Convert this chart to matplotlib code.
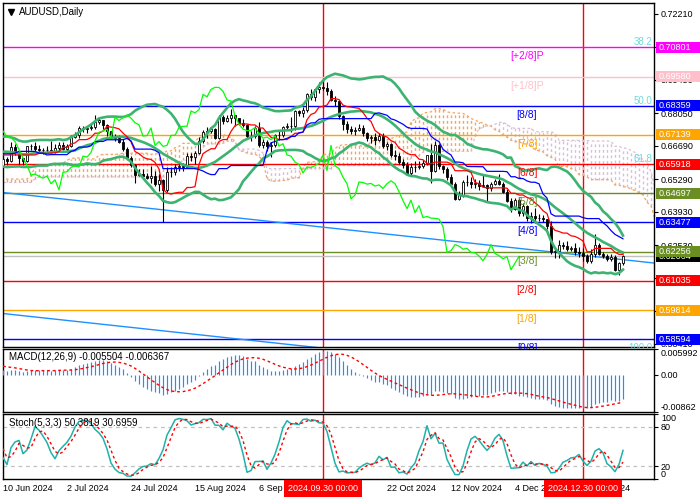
import matplotlib
matplotlib.use("Agg")
import matplotlib.pyplot as plt
import matplotlib.transforms as mtransforms
from matplotlib.patches import Rectangle
import numpy as np
import pandas as pd

plt.rcParams['font.family'] = ['Liberation Sans', 'DejaVu Sans']

# --- bars before the visible window (only used to warm up the indicators) ---
# 21 Feb 2024 .. 7 Jun 2024
pre_high = [0.6570, 0.6595, 0.6580, 0.6570, 0.6575, 0.6555, 0.6530,
            0.6530, 0.6540, 0.6535, 0.6550, 0.6610, 0.6668, 0.6620, 0.6610, 0.6610, 0.6620, 0.6590,
            0.6580, 0.6570, 0.6590, 0.6635, 0.6585, 0.6545, 0.6560, 0.6545, 0.6535, 0.6530,
            0.6530, 0.6520, 0.6555, 0.6590, 0.6590, 0.6615, 0.6645, 0.6645, 0.6555, 0.6550,
            0.6505, 0.6450, 0.6445, 0.6440, 0.6445, 0.6460, 0.6500, 0.6530, 0.6530, 0.6545,
            0.6580, 0.6560, 0.6545, 0.6570, 0.6645, 0.6640, 0.6630, 0.6595, 0.6625, 0.6630,
            0.6620, 0.6630, 0.6700, 0.6715, 0.6700, 0.6700, 0.6680, 0.6670, 0.6640, 0.6630,
            0.6660, 0.6670, 0.6655, 0.6640, 0.6665, 0.6680, 0.6685, 0.6665, 0.6680, 0.6680]
pre_low = [0.6530, 0.6550, 0.6550, 0.6540, 0.6535, 0.6505, 0.6485,
           0.6478, 0.6505, 0.6477, 0.6495, 0.6540, 0.6595, 0.6580, 0.6570, 0.6570, 0.6560, 0.6550,
           0.6540, 0.6505, 0.6505, 0.6560, 0.6505, 0.6515, 0.6525, 0.6510, 0.6480, 0.6505,
           0.6480, 0.6480, 0.6500, 0.6535, 0.6540, 0.6565, 0.6600, 0.6520, 0.6510, 0.6460,
           0.6440, 0.6380, 0.6395, 0.6395, 0.6362, 0.6415, 0.6440, 0.6470, 0.6485, 0.6505,
           0.6525, 0.6465, 0.6465, 0.6525, 0.6555, 0.6595, 0.6575, 0.6555, 0.6560, 0.6595,
           0.6595, 0.6590, 0.6615, 0.6665, 0.6660, 0.6660, 0.6640, 0.6620, 0.6590, 0.6590,
           0.6615, 0.6630, 0.6590, 0.6590, 0.6610, 0.6645, 0.6630, 0.6630, 0.6645, 0.6575]
pre_close = [0.6560, 0.6575, 0.6560, 0.6560, 0.6550, 0.6510, 0.6500,
             0.6525, 0.6520, 0.6500, 0.6545, 0.6605, 0.6620, 0.6595, 0.6585, 0.6600, 0.6570, 0.6565,
             0.6545, 0.6525, 0.6575, 0.6580, 0.6520, 0.6535, 0.6540, 0.6535, 0.6520, 0.6515,
             0.6500, 0.6505, 0.6545, 0.6580, 0.6570, 0.6610, 0.6635, 0.6530, 0.6550, 0.6475,
             0.6445, 0.6405, 0.6435, 0.6415, 0.6420, 0.6450, 0.6490, 0.6500, 0.6525, 0.6535,
             0.6560, 0.6480, 0.6535, 0.6560, 0.6610, 0.6620, 0.6580, 0.6575, 0.6620, 0.6610,
             0.6605, 0.6620, 0.6690, 0.6680, 0.6695, 0.6670, 0.6665, 0.6625, 0.6605, 0.6620,
             0.6650, 0.6650, 0.6600, 0.6625, 0.6655, 0.6680, 0.6645, 0.6650, 0.6665, 0.6580]

# --- visible daily bars: 10 Jun 2024 .. Jan 2025 ---
opens = [0.6582, 0.6612, 0.6605, 0.6665, 0.6640, 0.6616, 0.6606, 0.6666, 0.6667, 0.6657,
         0.6650, 0.6650, 0.6651, 0.6645, 0.6659, 0.6672, 0.6656, 0.6669, 0.6705, 0.6712,
         0.6744, 0.6740, 0.6741, 0.6745, 0.6766, 0.6778, 0.6756, 0.6730, 0.6706, 0.6703,
         0.6686, 0.6653, 0.6616, 0.6587, 0.6546, 0.6550, 0.6541, 0.6533, 0.6542, 0.6510,
         0.6526, 0.6484, 0.6557, 0.6560, 0.6578, 0.6585, 0.6580, 0.6625, 0.6621, 0.6640,
         0.6689, 0.6725, 0.6730, 0.6738, 0.6700, 0.6788, 0.6774, 0.6786, 0.6797, 0.6784,
         0.6765, 0.6756, 0.6709, 0.6711, 0.6743, 0.6670, 0.6686, 0.6666, 0.6670, 0.6712,
         0.6712, 0.6745, 0.6750, 0.6750, 0.6814, 0.6806, 0.6820, 0.6883, 0.6873, 0.6904,
         0.6913, 0.6912, 0.6896, 0.6860, 0.6856, 0.6792, 0.6759, 0.6738, 0.6732, 0.6733,
         0.6744, 0.6720, 0.6700, 0.6705, 0.6694, 0.6710, 0.6667, 0.6677, 0.6630, 0.6625,
         0.6600, 0.6590, 0.6555, 0.6580, 0.6578, 0.6585, 0.6595, 0.6630, 0.6565, 0.6670,
         0.6585, 0.6573, 0.6537, 0.6510, 0.6447, 0.6462, 0.6517, 0.6515, 0.6508, 0.6511,
         0.6500, 0.6505, 0.6490, 0.6510, 0.6522, 0.6510, 0.6477, 0.6439, 0.6406, 0.6441,
         0.6389, 0.6418, 0.6368, 0.6373, 0.6366, 0.6365, 0.6362, 0.6331, 0.6223, 0.6230,
         0.6255, 0.6249, 0.6236, 0.6240, 0.6223, 0.6221, 0.6208, 0.6188, 0.6214, 0.6255,
         0.6218, 0.6209, 0.6196, 0.6205, 0.6150, 0.6178]
highs = [0.6617, 0.6622, 0.6685, 0.6675, 0.6652, 0.6618, 0.6669, 0.6676, 0.6683, 0.6672,
         0.6660, 0.6668, 0.6688, 0.6675, 0.6683, 0.6683, 0.6674, 0.6715, 0.6725, 0.6751,
         0.6750, 0.6751, 0.6762, 0.6798, 0.6790, 0.6778, 0.6760, 0.6732, 0.6716, 0.6712,
         0.6697, 0.6663, 0.6627, 0.6594, 0.6570, 0.6571, 0.6556, 0.6585, 0.6562, 0.6550,
         0.6529, 0.6580, 0.6580, 0.6594, 0.6600, 0.6597, 0.6640, 0.6637, 0.6647, 0.6705,
         0.6733, 0.6745, 0.6748, 0.6743, 0.6798, 0.6798, 0.6797, 0.6824, 0.6797, 0.6785,
         0.6780, 0.6760, 0.6730, 0.6750, 0.6767, 0.6697, 0.6693, 0.6686, 0.6717, 0.6732,
         0.6750, 0.6764, 0.6790, 0.6820, 0.6818, 0.6829, 0.6890, 0.6906, 0.6907, 0.6936,
         0.6942, 0.6937, 0.6905, 0.6878, 0.6860, 0.6795, 0.6770, 0.6750, 0.6745, 0.6760,
         0.6755, 0.6725, 0.6712, 0.6723, 0.6722, 0.6722, 0.6685, 0.6680, 0.6650, 0.6638,
         0.6615, 0.6600, 0.6595, 0.6603, 0.6603, 0.6607, 0.6630, 0.6675, 0.6688, 0.6675,
         0.6590, 0.6580, 0.6550, 0.6515, 0.6480, 0.6525, 0.6548, 0.6538, 0.6530, 0.6525,
         0.6550, 0.6510, 0.6515, 0.6530, 0.6550, 0.6516, 0.6489, 0.6449, 0.6450, 0.6450,
         0.6431, 0.6421, 0.6392, 0.6408, 0.6385, 0.6380, 0.6363, 0.6355, 0.6247, 0.6273,
         0.6267, 0.6270, 0.6250, 0.6260, 0.6245, 0.6239, 0.6218, 0.6235, 0.6301, 0.6262,
         0.6225, 0.6215, 0.6215, 0.6212, 0.6182, 0.6212]
lows = [0.6575, 0.6590, 0.6602, 0.6630, 0.6589, 0.6590, 0.6600, 0.6650, 0.6648, 0.6640,
        0.6636, 0.6640, 0.6637, 0.6638, 0.6650, 0.6650, 0.6644, 0.6662, 0.6700, 0.6700,
        0.6726, 0.6721, 0.6735, 0.6739, 0.6760, 0.6740, 0.6710, 0.6695, 0.6690, 0.6680,
        0.6645, 0.6615, 0.6580, 0.6511, 0.6540, 0.6532, 0.6529, 0.6513, 0.6501, 0.6480,
        0.6348, 0.6475, 0.6538, 0.6548, 0.6565, 0.6564, 0.6575, 0.6604, 0.6591, 0.6633,
        0.6680, 0.6703, 0.6720, 0.6695, 0.6697, 0.6760, 0.6768, 0.6765, 0.6753, 0.6754,
        0.6749, 0.6700, 0.6687, 0.6702, 0.6662, 0.6661, 0.6648, 0.6622, 0.6665, 0.6693,
        0.6705, 0.6737, 0.6724, 0.6735, 0.6792, 0.6789, 0.6809, 0.6858, 0.6855, 0.6890,
        0.6900, 0.6880, 0.6855, 0.6833, 0.6781, 0.6735, 0.6722, 0.6718, 0.6713, 0.6729,
        0.6710, 0.6689, 0.6680, 0.6670, 0.6688, 0.6660, 0.6650, 0.6620, 0.6610, 0.6592,
        0.6575, 0.6550, 0.6540, 0.6560, 0.6570, 0.6575, 0.6590, 0.6512, 0.6560, 0.6570,
        0.6555, 0.6525, 0.6500, 0.6441, 0.6440, 0.6455, 0.6500, 0.6490, 0.6490, 0.6485,
        0.6495, 0.6435, 0.6480, 0.6505, 0.6505, 0.6470, 0.6432, 0.6390, 0.6400, 0.6375,
        0.6375, 0.6355, 0.6344, 0.6345, 0.6355, 0.6351, 0.6320, 0.6218, 0.6199, 0.6200,
        0.6235, 0.6230, 0.6230, 0.6212, 0.6205, 0.6186, 0.6178, 0.6180, 0.6205, 0.6210,
        0.6198, 0.6188, 0.6185, 0.6146, 0.6128, 0.6172]
closes = [0.6612, 0.6605, 0.6665, 0.6640, 0.6616, 0.6606, 0.6666, 0.6667, 0.6657, 0.6650,
          0.6650, 0.6651, 0.6645, 0.6659, 0.6672, 0.6656, 0.6669, 0.6705, 0.6712, 0.6744,
          0.6740, 0.6741, 0.6745, 0.6766, 0.6778, 0.6756, 0.6730, 0.6706, 0.6703, 0.6686,
          0.6653, 0.6616, 0.6587, 0.6546, 0.6550, 0.6541, 0.6533, 0.6542, 0.6510, 0.6526,
          0.6484, 0.6557, 0.6560, 0.6578, 0.6585, 0.6580, 0.6625, 0.6621, 0.6640, 0.6689,
          0.6725, 0.6730, 0.6738, 0.6700, 0.6788, 0.6774, 0.6786, 0.6797, 0.6784, 0.6765,
          0.6756, 0.6709, 0.6711, 0.6743, 0.6670, 0.6686, 0.6666, 0.6670, 0.6712, 0.6712,
          0.6745, 0.6750, 0.6750, 0.6814, 0.6806, 0.6820, 0.6883, 0.6873, 0.6904, 0.6913,
          0.6912, 0.6896, 0.6860, 0.6856, 0.6792, 0.6759, 0.6738, 0.6732, 0.6733, 0.6744,
          0.6720, 0.6700, 0.6705, 0.6694, 0.6710, 0.6667, 0.6677, 0.6630, 0.6625, 0.6600,
          0.6590, 0.6555, 0.6580, 0.6578, 0.6585, 0.6595, 0.6630, 0.6565, 0.6670, 0.6585,
          0.6573, 0.6537, 0.6510, 0.6447, 0.6462, 0.6517, 0.6515, 0.6508, 0.6511, 0.6500,
          0.6505, 0.6490, 0.6510, 0.6522, 0.6510, 0.6477, 0.6439, 0.6406, 0.6441, 0.6389,
          0.6418, 0.6368, 0.6373, 0.6366, 0.6365, 0.6362, 0.6331, 0.6223, 0.6230, 0.6255,
          0.6249, 0.6236, 0.6240, 0.6223, 0.6221, 0.6208, 0.6188, 0.6214, 0.6255, 0.6218,
          0.6209, 0.6196, 0.6205, 0.6150, 0.6178, 0.6206]

# Murrey math levels
murrey_levels = [0.70801, 0.69580, 0.68359, 0.67139, 0.65918, 0.64697,
                 0.63477, 0.62256, 0.61035, 0.59814, 0.58594]
murrey_labels = ['[+2/8]P', '[+1/8]P', '[8/8]', '[7/8]', '[6/8]', '[5/8]',
                 '[4/8]', '[3/8]', '[2/8]', '[1/8]', '[0/8]']
murrey_colors = ['#FF00FF', '#FFC0CB', '#0000FF', '#FFA500', '#FF0000', '#6B8E23',
                 '#0000FF', '#6B8E23', '#FF0000', '#FFA500', '#0000FF']
# fibo levels (labels only)
fib_levels = [0.70801, 0.68359, 0.65918, 0.58010]
fib_labels = ['38.2', '50.0', '61.8', '100.0']
# channel lines (start / end price over the visible window)
trend_x = [0, 162.75]
trend_1 = [0.64731, 0.61783]
trend_2 = [0.59672, 0.56725]
bid_price = 0.62064
price_ticks = [0.72210, 0.70810, 0.69450, 0.68050, 0.66690, 0.65290,
               0.63930, 0.62530, 0.61170, 0.59770, 0.58410]
macd_range = [-0.00862, 0.005992]
marker_bars = [80, 145]
marker_text = ['2024.09.30 00:00', '2024.12.30 00:00']
date_bars = [0, 16, 32, 48, 64, 96, 112, 128, 144]
date_text = ['10 Jun 2024', '2 Jul 2024', '24 Jul 2024', '15 Aug 2024', '6 Sep 2024',
             '22 Oct 2024', '12 Nov 2024', '4 Dec 2024', '26 Dec 2024']

# --- indicators ---
n_pre = len(pre_close)
H = pd.Series(pre_high + highs)
L = pd.Series(pre_low + lows)
C = pd.Series(pre_close + closes)
xa = np.arange(len(C)) - n_pre

ma20 = C.rolling(20).mean()
sd20 = C.rolling(20).std(ddof=0)
bb_up, bb_lo = ma20 + 2 * sd20, ma20 - 2 * sd20

tenkan = (H.rolling(9).max() + L.rolling(9).min()) / 2
kijun = (H.rolling(26).max() + L.rolling(26).min()) / 2
span_a = (tenkan + kijun) / 2
span_b = (H.rolling(52).max() + L.rolling(52).min()) / 2

macd = C.ewm(span=12, adjust=False).mean() - C.ewm(span=26, adjust=False).mean()
signal = macd.rolling(9).mean()

ll5, hh5 = L.rolling(5).min(), H.rolling(5).max()
stoch_k = (C - ll5).rolling(3).sum() / (hh5 - ll5).rolling(3).sum() * 100
stoch_d = stoch_k.rolling(3).mean()

vis = xa >= 0
xv = xa[vis]

# --- figure ---
fig = plt.figure(figsize=(7, 5), dpi=100)
ax = fig.add_axes([3 / 700, 153 / 500, 651 / 700, 344 / 500])
ax_m = fig.add_axes([3 / 700, 88 / 500, 651 / 700, 63 / 500])
ax_s = fig.add_axes([3 / 700, 21 / 500, 651 / 700, 65 / 500])
XMAX = 162.75
for a in (ax, ax_m, ax_s):
    a.set_xlim(0, XMAX)
    a.set_xticks([])
    a.yaxis.tick_right()
    a.tick_params(axis='y', labelsize=6.5, length=3, pad=2, width=0.8)
    for s in a.spines.values():
        s.set_linewidth(1.0)
    for b in marker_bars:
        a.axvline(b, color='#FF0000', lw=1.0, zorder=1)

ax.set_ylim(0.58272, 0.72653)
ax.set_yticks(price_ticks)
ax.set_yticklabels([f'{v:.5f}' for v in price_ticks])

# ichimoku cloud (shifted 26 bars forward)
xc = xa + 26
for xi, a_, b_ in zip(xc, span_a, span_b):
    if np.isnan(a_) or np.isnan(b_) or xi < 0:
        continue
    col = '#F4A460' if a_ >= b_ else '#D8BFD8'
    ax.vlines(xi, min(a_, b_), max(a_, b_), color=col, lw=1.0,
              linestyles=(0, (2, 2)), zorder=1)
ax.plot(xc, span_a, color='#F4A460', lw=0.9, ls=(0, (2, 2)), zorder=1)
ax.plot(xc, span_b, color='#D8BFD8', lw=0.9, ls=(0, (2, 2)), zorder=1)

# murrey lines and labels
for lv, lb, col in zip(murrey_levels, murrey_labels, murrey_colors):
    ax.axhline(lv, color=col, lw=1.0, zorder=2)
    ax.annotate(lb, xy=(131, lv), xytext=(0, -9), textcoords='offset pixels',
                ha='center', va='center', color=col, fontsize=7.5, zorder=6,
                annotation_clip=False)
ax.axhline(bid_price, color='#C0C0C0', lw=1.0, zorder=2)

blend = mtransforms.blended_transform_factory(ax.transAxes, ax.transData)
for lv, lb in zip(fib_levels, fib_labels):
    ax.text(0.997, lv, lb, transform=blend, ha='right', va='bottom',
            color='#6FDCDC', fontsize=7, zorder=6)

ax.plot(trend_x, trend_1, color='#1E90FF', lw=1.0, zorder=2)
ax.plot(trend_x, trend_2, color='#1E90FF', lw=1.0, zorder=2)

# candles
o_v, h_v, l_v, c_v = map(np.array, (opens, highs, lows, closes))
ax.vlines(xv, l_v, h_v, color='black', lw=0.8, zorder=3)
bull = c_v >= o_v
body = np.maximum(np.abs(c_v - o_v), 0.00008)
ax.bar(xv, body, bottom=np.minimum(o_v, c_v), width=0.72,
       color=np.where(bull, 'white', 'black'), edgecolor='black', lw=0.6, zorder=3)

# bollinger, tenkan/kijun, chikou
for s in (bb_up, ma20, bb_lo):
    ax.plot(xa, s, color='#3CB371', lw=1.9, zorder=4)
ax.plot(xa, tenkan, color='#FF0000', lw=0.9, zorder=4)
ax.plot(xa, kijun, color='#0000FF', lw=0.9, zorder=4)
ax.plot(xa - 26, C, color='#00FF00', lw=0.9, zorder=4)

# right-hand price boxes
box_prices = [0.70801, 0.69580, 0.68359, 0.67139, 0.65918, 0.64697,
              0.63477, bid_price, 0.62256, 0.61035, 0.59814, 0.58594]
box_colors = ['#FF00FF', '#FFC0CB', '#0000FF', '#FFA500', '#FF0000', '#6B8E23',
              '#0000FF', '#000000', '#6B8E23', '#FF0000', '#FFA500', '#0000FF']
bh = 11 / 2392
for k, (p, col) in enumerate(zip(box_prices, box_colors)):
    ax.add_patch(Rectangle((1.0 + 2 / 651, p - bh / 2), 44 / 651, bh, transform=blend,
                           facecolor=col, edgecolor='none', clip_on=False, zorder=20 + k))
    ax.text(1.0 + 5 / 651, p, f'{p:.5f}', transform=blend, color='white', fontsize=6.5,
            ha='left', va='center', clip_on=False, zorder=20 + k)

ax.plot([8 / 651], [1 - 9 / 344], marker='v', color='black', ms=4,
        transform=ax.transAxes, clip_on=False)
ax.text(16 / 651, 1 - 9 / 344, 'AUDUSD,Daily', transform=ax.transAxes,
        fontsize=7, va='center', ha='left')

# MACD panel
ax_m.set_ylim(*macd_range)
ax_m.vlines(xv, 0, macd[vis], color='#1E90FF', lw=0.85, zorder=3)
ax_m.plot(xv, signal[vis], color='#FF0000', lw=1.0, ls=(0, (2, 2)), zorder=4)
ax_m.set_yticks([macd_range[1], 0.0, macd_range[0]])
ax_m.set_yticklabels(['0.005992', '0.00', '-0.00862'])
mt = ax_m.get_yticklabels()
mt[0].set_va('top')
mt[2].set_va('bottom')
ax_m.text(6 / 651, 0.87, 'MACD(12,26,9) -0.005504 -0.006367', transform=ax_m.transAxes,
          fontsize=7, va='center', ha='left')

# Stochastic panel
ax_s.set_ylim(0, 100)
for lv in (20, 80):
    ax_s.axhline(lv, color='#C0C0C0', lw=0.9, ls=(0, (3, 3)), zorder=1)
ax_s.plot(xv, stoch_k[vis], color='#20B2AA', lw=1.1, zorder=3)
ax_s.plot(xv, stoch_d[vis], color='#FF0000', lw=1.0, ls=(0, (2, 2)), zorder=4)
ax_s.set_yticks([100, 80, 20, 0])
ax_s.set_yticklabels(['100', '80', '20', '0'])
tl = ax_s.get_yticklabels()
tl[0].set_va('top')
tl[3].set_va('bottom')
ax_s.text(6 / 651, 0.86, 'Stoch(5,3,3) 50.3819 30.6959', transform=ax_s.transAxes,
          fontsize=7, va='center', ha='left')

sblend = mtransforms.blended_transform_factory(ax_s.transData, ax_s.transAxes)
for b, t in zip(date_bars, date_text):
    ax_s.text(b, -0.14, t, transform=sblend, fontsize=6.5, ha='left', va='center',
              clip_on=False)
for b, t in zip(marker_bars, marker_text):
    ax_s.text(b, -0.14, t, transform=sblend, fontsize=6.5, ha='center', va='center',
              color='white', clip_on=False, zorder=30,
              bbox=dict(boxstyle='square,pad=0.45', fc='#FF0000', ec='none'))

fig.savefig('out.png', dpi=100)
